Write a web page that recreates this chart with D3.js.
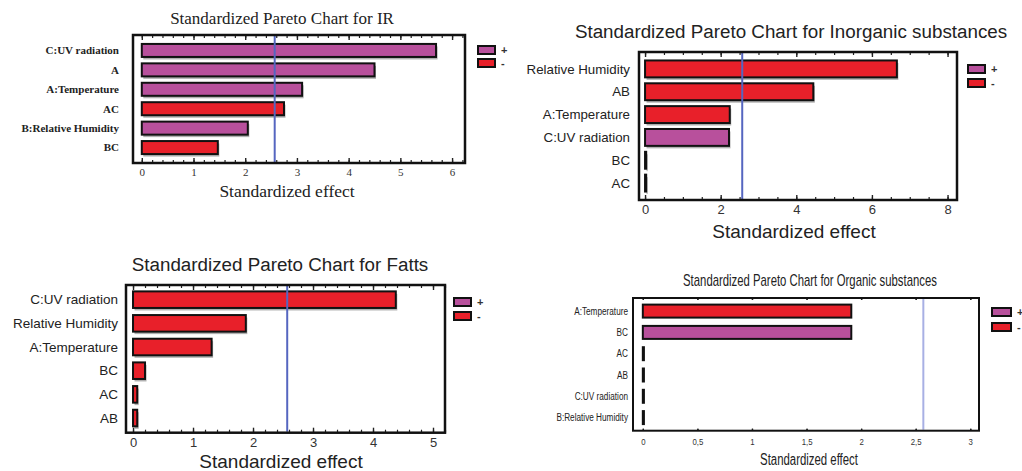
<!DOCTYPE html>
<html><head><meta charset="utf-8">
<script src="https://cdn.jsdelivr.net/npm/d3@7"></script>
<style>html,body{margin:0;padding:0;background:#fff;}svg{display:block;}</style>
</head><body>
<svg id="c" width="1022" height="471"></svg>
<script>
// ---------- data ----------
const irLabels = ["C:UV radiation","A","A:Temperature","AC","B:Relative Humidity","BC"];
const irValues = [5.69, 4.5, 3.1, 2.75, 2.05, 1.47];
const irSigns  = ["+","+","+","-","+","-"];
const irTicks  = [0,1,2,3,4,5,6];

const inorgLabels = ["Relative Humidity","AB","A:Temperature","C:UV radiation","BC","AC"];
const inorgValues = [6.66, 4.45, 2.24, 2.22, 0.03, 0.03];
const inorgSigns  = ["-","-","-","+","-","-"];
const inorgTicks  = [0,2,4,6,8];

const fattsLabels = ["C:UV radiation","Relative Humidity","A:Temperature","BC","AC","AB"];
const fattsValues = [4.38, 1.88, 1.31, 0.2, 0.07, 0.07];
const fattsSigns  = ["-","-","-","-","-","-"];
const fattsTicks  = [0,1,2,3,4,5];

const orgLabels = ["A:Temperature","BC","AC","AB","C:UV radiation","B:Relative Humidity"];
const orgValues = [1.91, 1.91, 0.01, 0.01, 0.01, 0.01];
const orgSigns  = ["-","+","-","-","-","-"];
const orgTicks  = [0,0.5,1,1.5,2,2.5,3];
const orgTickLabels = ["0","0,5","1","1,5","2","2,5","3"];

const critical = 2.57;
const legendKeys = ["+","-"];

// ---------- style ----------
const colPlus = "#b8509c", colMinus = "#e8202a";
const color = d3.scaleOrdinal().domain(legendKeys).range([colPlus, colMinus]);

const svg = d3.select("#c");

function squeeze(sel, f){
  if (!f) return;
  sel.each(function(){
    const w=this.getComputedTextLength();
    d3.select(this).attr("textLength", w*f).attr("lengthAdjust","spacingAndGlyphs");
  });
}

// centered text, optionally scaled horizontally to a target width
function centered(g, txt, cx, cy, font, fs, targetLen){
  const t = g.append("text").attr("text-anchor","middle")
    .attr("font-family", font).attr("font-size", fs).attr("fill","#222").text(txt);
  let sx = 1;
  if (targetLen) sx = targetLen / t.node().getComputedTextLength();
  t.attr("transform", `translate(${cx},${cy}) scale(${sx},1)`);
  return t;
}

function panel(o){
  const g = svg.append("g");
  const x = d3.scaleLinear().domain(o.xDom).range([o.fx0, o.fx1]);
  const y = d3.scaleBand().domain(o.labels).range([o.fy0, o.fy1])
              .paddingInner(o.pi).paddingOuter(o.po);
  const data = o.labels.map((l,i)=>({l, v:o.values[i], s:o.signs[i]}));

  if (o.shadow) g.selectAll("rect.sh").data(data).join("rect")
      .attr("x", x(0)+1.5).attr("y", d=>y(d.l)+2.5)
      .attr("width", d=>Math.max(0.5, x(d.v)-x(0))).attr("height", y.bandwidth())
      .attr("fill", "#b0b0b0");
  g.selectAll("rect.b").data(data).join("rect")
      .attr("x", x(0)).attr("y", d=>y(d.l))
      .attr("width", d=>Math.max(0.5, x(d.v)-x(0))).attr("height", y.bandwidth())
      .attr("fill", d=>color(d.s)).attr("stroke", "#111").attr("stroke-width", o.barStroke);

  g.append("line").attr("x1", x(critical)).attr("x2", x(critical))
     .attr("y1", o.fy0+1).attr("y2", o.fy1-1)
     .attr("stroke", o.refColor).attr("stroke-width", 2);

  const minor = d3.range(0, o.xDom[1]+1e-9, o.minorStep);
  const bot = d3.axisBottom(x).tickValues(minor).tickSize(-o.minorSize).tickFormat("");
  const top = d3.axisTop(x).tickValues(minor).tickSize(-o.minorSize).tickFormat("");
  g.append("g").attr("transform",`translate(0,${o.fy1})`).call(bot).call(a=>a.select(".domain").remove())
    .selectAll("line").attr("stroke","#222").attr("stroke-width",1.2);
  g.append("g").attr("transform",`translate(0,${o.fy0})`).call(top).call(a=>a.select(".domain").remove())
    .selectAll("line").attr("stroke","#222").attr("stroke-width",1.2);
  const major = d3.axisBottom(x).tickValues(o.ticks).tickSize(-o.majorSize).tickPadding(o.tickPad)
      .tickFormat((d,i)=> o.tickLabels ? o.tickLabels[i] : d);
  const ma = g.append("g").attr("transform",`translate(0,${o.fy1})`).call(major);
  ma.select(".domain").remove();
  ma.selectAll("line").attr("stroke","#222").attr("stroke-width",1.4);
  ma.selectAll("text").attr("font-family", o.font).attr("font-size", o.tickFs).attr("fill","#333");
  squeeze(ma.selectAll("text"), o.compress);
  const mt = g.append("g").attr("transform",`translate(0,${o.fy0})`)
      .call(d3.axisTop(x).tickValues(o.ticks).tickSize(-o.majorSize).tickFormat(""));
  mt.select(".domain").remove();
  mt.selectAll("line").attr("stroke","#222").attr("stroke-width",1.4);

  g.append("rect").attr("x", o.fx0).attr("y", o.fy0).attr("width", o.fx1-o.fx0).attr("height", o.fy1-o.fy0)
    .attr("fill","none").attr("stroke","#111").attr("stroke-width", o.frameW);

  const yl = g.selectAll("text.yl").data(data).join("text")
    .attr("x", o.labelX).attr("y", d=>y(d.l)+y.bandwidth()/2).attr("dy","0.35em")
    .attr("text-anchor","end").attr("font-family", o.font).attr("font-size", o.labelFs)
    .attr("font-weight", o.labelW||"normal").attr("fill","#222").text(d=>d.l);
  squeeze(yl, o.compress);

  centered(g, o.title, o.titleX, o.titleY, o.font, o.titleFs, o.titleLen);
  centered(g, "Standardized effect", o.xlX, o.xlY, o.font, o.xlFs, o.xlLen);

  legendKeys.forEach((k,i)=>{
    g.append("rect").attr("x", o.legX).attr("y", o.legY + i*o.legDy - 4).attr("width", o.legW).attr("height", 8)
      .attr("fill", color(k)).attr("stroke","#111").attr("stroke-width",2);
    g.append("text").attr("x", o.legX+o.legW+6).attr("y", o.legY + i*o.legDy).attr("dy","0.35em")
      .attr("font-family","Liberation Sans").attr("font-size", 11).attr("font-weight","bold").attr("fill","#333").text(k);
  });
}

panel({labels:irLabels, values:irValues, signs:irSigns, ticks:irTicks,
  xDom:[-0.17,6.25], fx0:133, fx1:465, fy0:35, fy1:163, pi:0.33, po:0.46,
  font:"Liberation Serif", tickFs:11, tickPad:5, labelFs:11, labelW:"bold", labelX:119,
  title:"Standardized Pareto Chart for IR", titleX:282, titleY:24, titleFs:17,
  xlX:287, xlY:197, xlFs:17.5, minorStep:0.2, minorSize:3, majorSize:5,
  refColor:"#5566c0", barStroke:2, frameW:2.5, shadow:true,
  legX:478, legY:50, legDy:13, legW:17});

panel({labels:inorgLabels, values:inorgValues, signs:inorgSigns, ticks:inorgTicks,
  xDom:[-0.16,8.25], fx0:639, fx1:957, fy0:52, fy1:200, pi:0.26, po:0.37,
  font:"Liberation Sans", tickFs:13, tickPad:5, labelFs:13.3, labelX:630,
  title:"Standardized Pareto Chart for Inorganic substances", titleX:791, titleY:38, titleFs:18.8,
  xlX:794, xlY:238, xlFs:19, minorStep:0.5, minorSize:3, majorSize:5,
  refColor:"#5566c0", barStroke:2, frameW:2.5, shadow:true,
  legX:968, legY:69, legDy:14, legW:17});

panel({labels:fattsLabels, values:fattsValues, signs:fattsSigns, ticks:fattsTicks,
  xDom:[-0.117,5.2], fx0:126, fx1:445, fy0:285, fy1:432.7, pi:0.3, po:0.27,
  font:"Liberation Sans", tickFs:13, tickPad:5, labelFs:13.5, labelX:118,
  title:"Standardized Pareto Chart for Fatts", titleX:280, titleY:271, titleFs:18.8,
  xlX:281, xlY:468, xlFs:19, minorStep:0.2, minorSize:3, majorSize:5,
  refColor:"#5566c0", barStroke:2, frameW:2.5, shadow:true,
  legX:454, legY:302, legDy:14, legW:17});

panel({labels:orgLabels, values:orgValues, signs:orgSigns, ticks:orgTicks, tickLabels:orgTickLabels,
  xDom:[-0.09,3.08], fx0:633, fx1:979, fy0:298, fy1:430.7, pi:0.39, po:0.31,
  font:"Liberation Sans", tickFs:9.5, tickPad:8, labelFs:10, labelX:628, compress:0.82,
  title:"Standardized Pareto Chart for Organic substances", titleX:810, titleY:286, titleFs:16, titleLen:254,
  xlX:809, xlY:465, xlFs:16, xlLen:98, minorStep:0.5, minorSize:2, majorSize:2,
  refColor:"#a8b0e4", barStroke:2, frameW:2, shadow:false,
  legX:992, legY:312, legDy:15, legW:19});
</script>
</body></html>
